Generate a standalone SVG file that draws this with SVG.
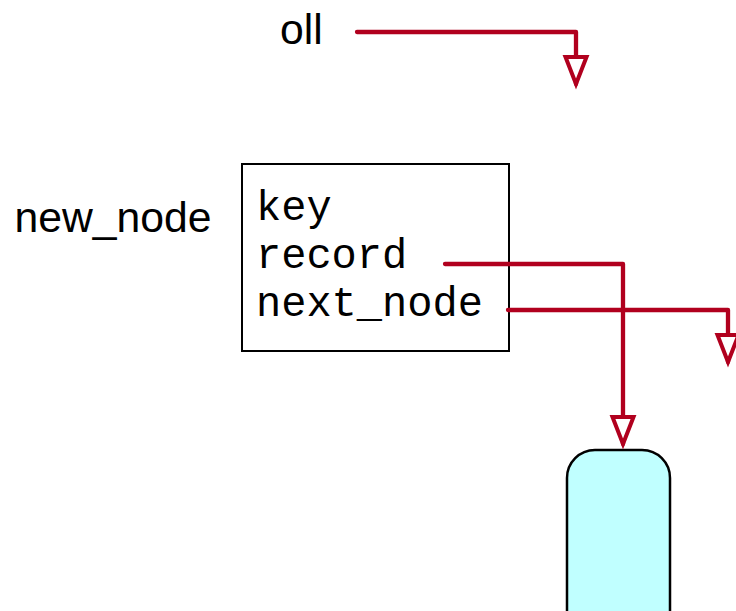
<svg xmlns="http://www.w3.org/2000/svg" width="736" height="611" viewBox="0 0 736 611">
<defs>
<style>
.lbl{font-family:"Liberation Sans",Arial,sans-serif;font-size:42.7px;fill:#000}
.mono{font-family:"Liberation Mono","Courier New",monospace;font-size:42px;fill:#000}
.conn{fill:none;stroke:#b1001e;stroke-width:4.3;stroke-linecap:round;stroke-linejoin:round;marker-end:url(#arr)}
</style>
<marker id="arr" markerUnits="userSpaceOnUse" viewBox="-32 -15 37 30" markerWidth="37" markerHeight="30" refX="0" refY="0" orient="auto" overflow="visible">
<polygon points="-27,-10.5 0,0 -27,10.5" fill="#fff" stroke="#b1001e" stroke-width="4" stroke-linejoin="miter"/>
</marker>
</defs>
<rect width="736" height="611" fill="#fff"/>
<g id="oll">
<text class="lbl" x="280" y="44">oll</text>
</g>
<g id="new_node">
<text class="lbl" x="14.5" y="232">new_node</text>
<rect x="242" y="164" width="267" height="187" fill="#fff" stroke="#000" stroke-width="2"/>
<text class="mono" x="256" y="220">key</text>
<text class="mono" x="256" y="268">record</text>
<text class="mono" x="256" y="316">next_node</text>
</g>
<g id="record_node">
<rect x="567" y="450" width="103" height="200" rx="28" ry="28" fill="#c0ffff" stroke="#000" stroke-width="2.5"/>
</g>
<g id="connectors">
<path class="conn" d="M357,32 H576 V84"/>
<path class="conn" d="M445,264 H623 V444"/>
<path class="conn" d="M508,310 H728 V362"/>
</g>
</svg>
